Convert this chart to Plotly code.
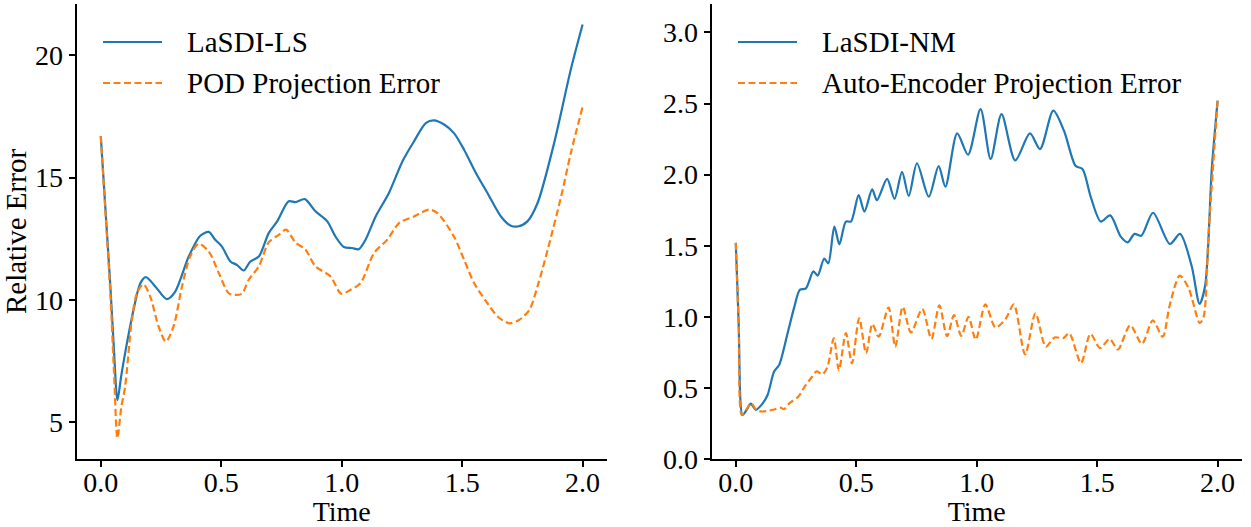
import plotly.graph_objects as go

# ---------------- data ----------------
ls_t = [0, 0.02, 0.04, 0.055, 0.069, 0.085, 0.101, 0.136, 0.164, 0.187, 0.226, 0.274, 0.309,
        0.365, 0.413, 0.448, 0.475, 0.503, 0.538, 0.565, 0.593, 0.621, 0.656, 0.697, 0.732,
        0.78, 0.808, 0.847, 0.891, 0.94, 0.974, 1.009, 1.043, 1.071, 1.099, 1.141, 1.196,
        1.252, 1.3, 1.349, 1.383, 1.425, 1.466, 1.508, 1.557, 1.605, 1.661, 1.702, 1.73,
        1.771, 1.813, 1.882, 1.951, 2.0]
ls_v = [16.69, 13.6, 10.5, 7.9, 5.9, 6.9, 7.82, 9.59, 10.68, 10.93, 10.55, 10.03, 10.34,
        11.77, 12.62, 12.78, 12.46, 12.18, 11.57, 11.43, 11.2, 11.57, 11.77, 12.73, 13.21,
        14.03, 14.0, 14.12, 13.62, 13.21, 12.59, 12.16, 12.12, 12.07, 12.46, 13.41, 14.37,
        15.66, 16.48, 17.23, 17.34, 17.17, 16.82, 16.14, 15.19, 14.37, 13.41, 13.03, 13.0,
        13.21, 13.96, 16.42, 19.42, 21.26]

pod_t = [0, 0.02, 0.04, 0.055, 0.069, 0.085, 0.101, 0.129, 0.15, 0.177, 0.205, 0.24, 0.27,
         0.302, 0.337, 0.371, 0.406, 0.448, 0.49, 0.531, 0.559, 0.586, 0.614, 0.656, 0.697,
         0.739, 0.769, 0.808, 0.85, 0.891, 0.953, 0.998, 1.037, 1.078, 1.134, 1.189, 1.238,
         1.3, 1.362, 1.397, 1.466, 1.508, 1.55, 1.605, 1.647, 1.696, 1.737, 1.779, 1.813,
         1.855, 1.911, 1.951, 2.0]
pod_v = [16.69, 13.5, 10.2, 7.0, 4.34, 5.6, 6.45, 9.18, 10.27, 10.64, 10.14, 8.91, 8.29,
         8.91, 10.55, 11.77, 12.29, 11.98, 11.09, 10.27, 10.2, 10.25, 10.82, 11.37, 12.35,
         12.66, 12.87, 12.35, 12.05, 11.37, 10.96, 10.25, 10.41, 10.68, 11.91, 12.46, 13.14,
         13.41, 13.69, 13.55, 12.59, 11.64, 10.68, 9.86, 9.32, 9.04, 9.18, 9.59, 10.55,
         12.05, 14.23, 16.0, 17.9]

nm_t = [0, 0.012, 0.028, 0.045, 0.062, 0.083, 0.111, 0.132, 0.159, 0.18, 0.215, 0.243,
        0.266, 0.291, 0.322, 0.34, 0.367, 0.384, 0.409, 0.43, 0.457, 0.478, 0.51, 0.534,
        0.566, 0.586, 0.628, 0.659, 0.69, 0.718, 0.752, 0.801, 0.842, 0.87, 0.919, 0.964,
        1.016, 1.058, 1.103, 1.16, 1.221, 1.263, 1.318, 1.362, 1.411, 1.439, 1.473, 1.515,
        1.554, 1.598, 1.627, 1.655, 1.683, 1.732, 1.802, 1.844, 1.892, 1.925, 1.948, 1.976, 2.0]
nm_v = [1.52, 0.95, 0.31, 0.345, 0.389, 0.346, 0.39, 0.45, 0.616, 0.662, 0.885, 1.07,
        1.19, 1.2, 1.32, 1.29, 1.41, 1.376, 1.634, 1.51, 1.67, 1.67, 1.856, 1.74,
        1.896, 1.82, 1.97, 1.83, 2.02, 1.85, 2.08, 1.845, 2.06, 1.915, 2.29, 2.14,
        2.46, 2.11, 2.425, 2.10, 2.29, 2.18, 2.45, 2.31, 2.06, 2.04, 1.845, 1.67,
        1.713, 1.564, 1.524, 1.583, 1.57, 1.732, 1.512, 1.583, 1.359, 1.092, 1.217, 2.044, 2.52]

ae_t = [0, 0.012, 0.025, 0.045, 0.064, 0.085, 0.109, 0.155, 0.185, 0.2, 0.223, 0.26, 0.29,
        0.313, 0.336, 0.359, 0.38, 0.407, 0.428, 0.457, 0.482, 0.512, 0.541, 0.567, 0.593,
        0.634, 0.662, 0.693, 0.727, 0.774, 0.812, 0.845, 0.877, 0.906, 0.936, 0.966, 0.996,
        1.036, 1.078, 1.12, 1.154, 1.201, 1.244, 1.287, 1.323, 1.36, 1.384, 1.433, 1.472,
        1.512, 1.552, 1.586, 1.637, 1.686, 1.731, 1.772, 1.801, 1.843, 1.88, 1.926, 1.942,
        1.962, 2.0]
ae_v = [1.52, 0.95, 0.31, 0.35, 0.393, 0.345, 0.334, 0.346, 0.362, 0.35, 0.393, 0.44, 0.52,
        0.57, 0.616, 0.595, 0.645, 0.85, 0.625, 0.885, 0.672, 0.99, 0.744, 0.95, 0.86,
        1.065, 0.79, 1.07, 0.89, 1.055, 0.845, 1.08, 0.863, 1.012, 0.866, 1.0, 0.84,
        1.087, 0.925, 0.985, 1.087, 0.735, 1.025, 0.79, 0.855, 0.85, 0.885, 0.675, 0.88,
        0.78, 0.845, 0.77, 0.94, 0.81, 0.975, 0.86, 1.08, 1.29, 1.2, 0.955, 1.0,
        1.572, 2.52]

assert len(ls_t) == len(ls_v) and len(pod_t) == len(pod_v)
assert len(nm_t) == len(nm_v) and len(ae_t) == len(ae_v)

left_names = ["LaSDI-LS", "POD Projection Error"]
right_names = ["LaSDI-NM", "Auto-Encoder Projection Error"]
x_ticks = [0.0, 0.5, 1.0, 1.5, 2.0]
left_y_ticks = [5, 10, 15, 20]
right_y_ticks = [0.0, 0.5, 1.0, 1.5, 2.0, 2.5, 3.0]

# ---------------- styling ----------------
BLUE = "#1f77b4"
ORANGE = "#ff7f0e"
FONT = "Liberation Serif"
W, H = 1251, 527
MT, MB = 4, 68
LW = 2.2
DASH = "7px,3.5px"

fig = go.Figure()
fig.add_trace(go.Scatter(x=ls_t, y=ls_v, mode="lines", name=left_names[0],
                         line=dict(color=BLUE, width=LW, shape="spline", smoothing=0.8),
                         xaxis="x", yaxis="y", showlegend=False))
fig.add_trace(go.Scatter(x=pod_t, y=pod_v, mode="lines", name=left_names[1],
                         line=dict(color=ORANGE, width=LW, dash=DASH, shape="spline", smoothing=0.8),
                         xaxis="x", yaxis="y", showlegend=False))
fig.add_trace(go.Scatter(x=nm_t, y=nm_v, mode="lines", name=right_names[0],
                         line=dict(color=BLUE, width=LW, shape="spline", smoothing=0.8),
                         xaxis="x2", yaxis="y2", showlegend=False))
fig.add_trace(go.Scatter(x=ae_t, y=ae_v, mode="lines", name=right_names[1],
                         line=dict(color=ORANGE, width=LW, dash=DASH, shape="spline", smoothing=0.8),
                         xaxis="x2", yaxis="y2", showlegend=False))

axis_common = dict(showline=True, linecolor="black", linewidth=2, mirror=False,
                   ticks="outside", ticklen=6, tickwidth=1.5, tickcolor="black",
                   showgrid=False, zeroline=False,
                   tickfont=dict(family=FONT, size=28, color="black"))
x_extra = dict(ticklabelstandoff=-9)

fig.update_layout(
    width=W, height=H,
    margin=dict(l=0, r=0, t=MT, b=MB),
    paper_bgcolor="white", plot_bgcolor="white",
    font=dict(family=FONT, color="black"),
    xaxis=dict(domain=[76.7 / W, 606.7 / W], range=[-0.1, 2.1], tickvals=x_ticks,
               tickformat=".1f", anchor="y",
               title=dict(text="Time", font=dict(family=FONT, size=28), standoff=10),
               **axis_common, **x_extra),
    yaxis=dict(range=[3.49, 22.1], tickvals=left_y_ticks, anchor="x",
               title=dict(text="Relative Error", font=dict(family=FONT, size=29), standoff=6),
               **axis_common),
    xaxis2=dict(domain=[711.7 / W, 1241.7 / W], range=[-0.1, 2.1], tickvals=x_ticks,
                tickformat=".1f", anchor="y2",
                title=dict(text="Time", font=dict(family=FONT, size=28), standoff=10),
                **axis_common, **x_extra),
    yaxis2=dict(range=[0, 3.2], tickvals=right_y_ticks, tickformat=".1f", anchor="x2",
                **axis_common),
)

# ---------------- legends (drawn in paper coordinates) ----------------
def px(xp):
    return xp / W

def py(yp):
    return (H - MB - yp) / (H - MT - MB)

legend_rows = [42, 83]
legend_specs = [
    (103, 162, 185, left_names, [BLUE, ORANGE]),
    (738, 797, 820, right_names, [BLUE, ORANGE]),
]
for x0, x1, xt, names, colors in legend_specs:
    for i, (nm, col) in enumerate(zip(names, colors)):
        yy = py(legend_rows[i])
        fig.add_shape(type="line", xref="paper", yref="paper",
                      x0=px(x0), x1=px(x1), y0=yy, y1=yy,
                      line=dict(color=col, width=LW, dash="solid" if i == 0 else DASH))
        fig.add_annotation(xref="paper", yref="paper", x=px(xt), y=yy, text=nm,
                           showarrow=False, xanchor="left", yanchor="middle",
                           font=dict(family=FONT, size=29, color="black"))

fig.write_html("out.html")
